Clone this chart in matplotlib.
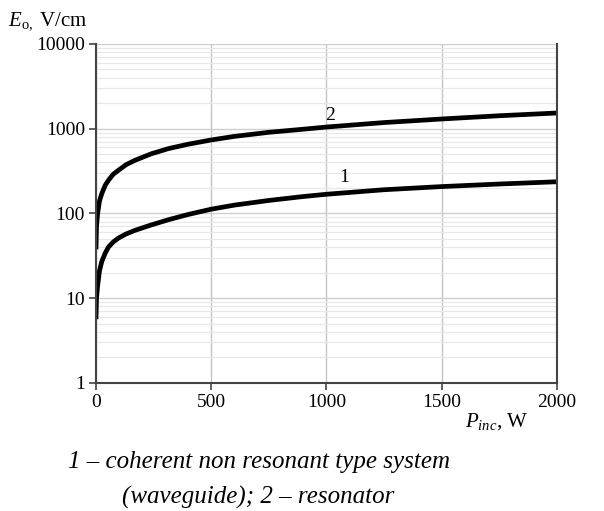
import numpy as np
import matplotlib
matplotlib.use("Agg")
import matplotlib.pyplot as plt
from matplotlib.ticker import FixedLocator, NullFormatter

# values
p_inc = [0, 2, 7, 15, 25, 40, 54, 75, 97, 130, 169, 240, 314, 400, 500,
         600, 750, 900, 1000, 1250, 1500, 1750, 2000]
e_waveguide = [6, 10, 14, 21, 27, 34, 40, 46, 51, 57, 63, 73, 84, 97, 112,
               125, 142, 158, 168, 190, 207, 222, 236]
e_resonator = [40, 70, 100, 140, 171, 215, 246, 290, 322, 375, 423, 505, 581, 655, 735,
               810, 905, 985, 1045, 1180, 1300, 1420, 1530]

x_ticks = [0, 500, 1000, 1500, 2000]
y_ticks = [1, 10, 100, 1000, 10000]

plt.rcParams["font.family"] = ["Liberation Serif", "DejaVu Serif"]
plt.rcParams["mathtext.fontset"] = "custom"
plt.rcParams["mathtext.rm"] = "Liberation Serif"
plt.rcParams["mathtext.it"] = "Liberation Serif:italic"

fig = plt.figure(figsize=(6.04, 5.11), dpi=100)
ax = fig.add_axes([0.159, 0.251, 0.763, 0.663])

ax.plot(p_inc, e_waveguide, color="black", lw=3.4, solid_joinstyle="round")
ax.plot(p_inc, e_resonator, color="black", lw=3.4, solid_joinstyle="round")

ax.set_yscale("log")
ax.set_xlim(0, 2000)
ax.set_ylim(1, 10000)
ax.set_xticks(x_ticks)
ax.set_yticks(y_ticks)
ax.set_yticklabels([str(v) for v in y_ticks])
ax.yaxis.set_minor_locator(FixedLocator([m * 10 ** d for d in range(4) for m in range(2, 10)]))
ax.yaxis.set_minor_formatter(NullFormatter())

ax.grid(True, which="major", axis="x", color="#c4c4c4", lw=1)
ax.grid(True, which="major", axis="y", color="#cfcfcf", lw=1)
ax.grid(True, which="minor", axis="y", color="#e8e8e8", lw=0.9)
ax.set_axisbelow(True)

for s in ["left", "bottom", "right"]:
    ax.spines[s].set_color("#444444")
    ax.spines[s].set_linewidth(1.5)
ax.spines["top"].set_visible(False)

ax.tick_params(axis="both", which="major", direction="out", length=5, width=1.2,
               color="#444444", labelsize=14, pad=3)
ax.tick_params(axis="y", which="minor", length=0)
ax.tick_params(axis="y", right=False)

ax.text(1015, 1430, "2", fontsize=14, ha="center", va="center")
ax.text(1076, 265, "1", fontsize=14, ha="center", va="center")

fig.text(0.013, 0.958, r"$E_{\mathrm{o},}$ V/cm", fontsize=15, ha="left", va="center")
fig.text(0.77, 0.176, r"$P_{inc}$, W", fontsize=15, ha="left", va="center")

fig.text(0.428, 0.095, "1 – coherent non resonant type system", fontsize=18,
         style="italic", ha="center", va="center")
fig.text(0.428, 0.027, "(waveguide); 2 – resonator", fontsize=18,
         style="italic", ha="center", va="center")

fig.savefig("out.png", dpi=100)
